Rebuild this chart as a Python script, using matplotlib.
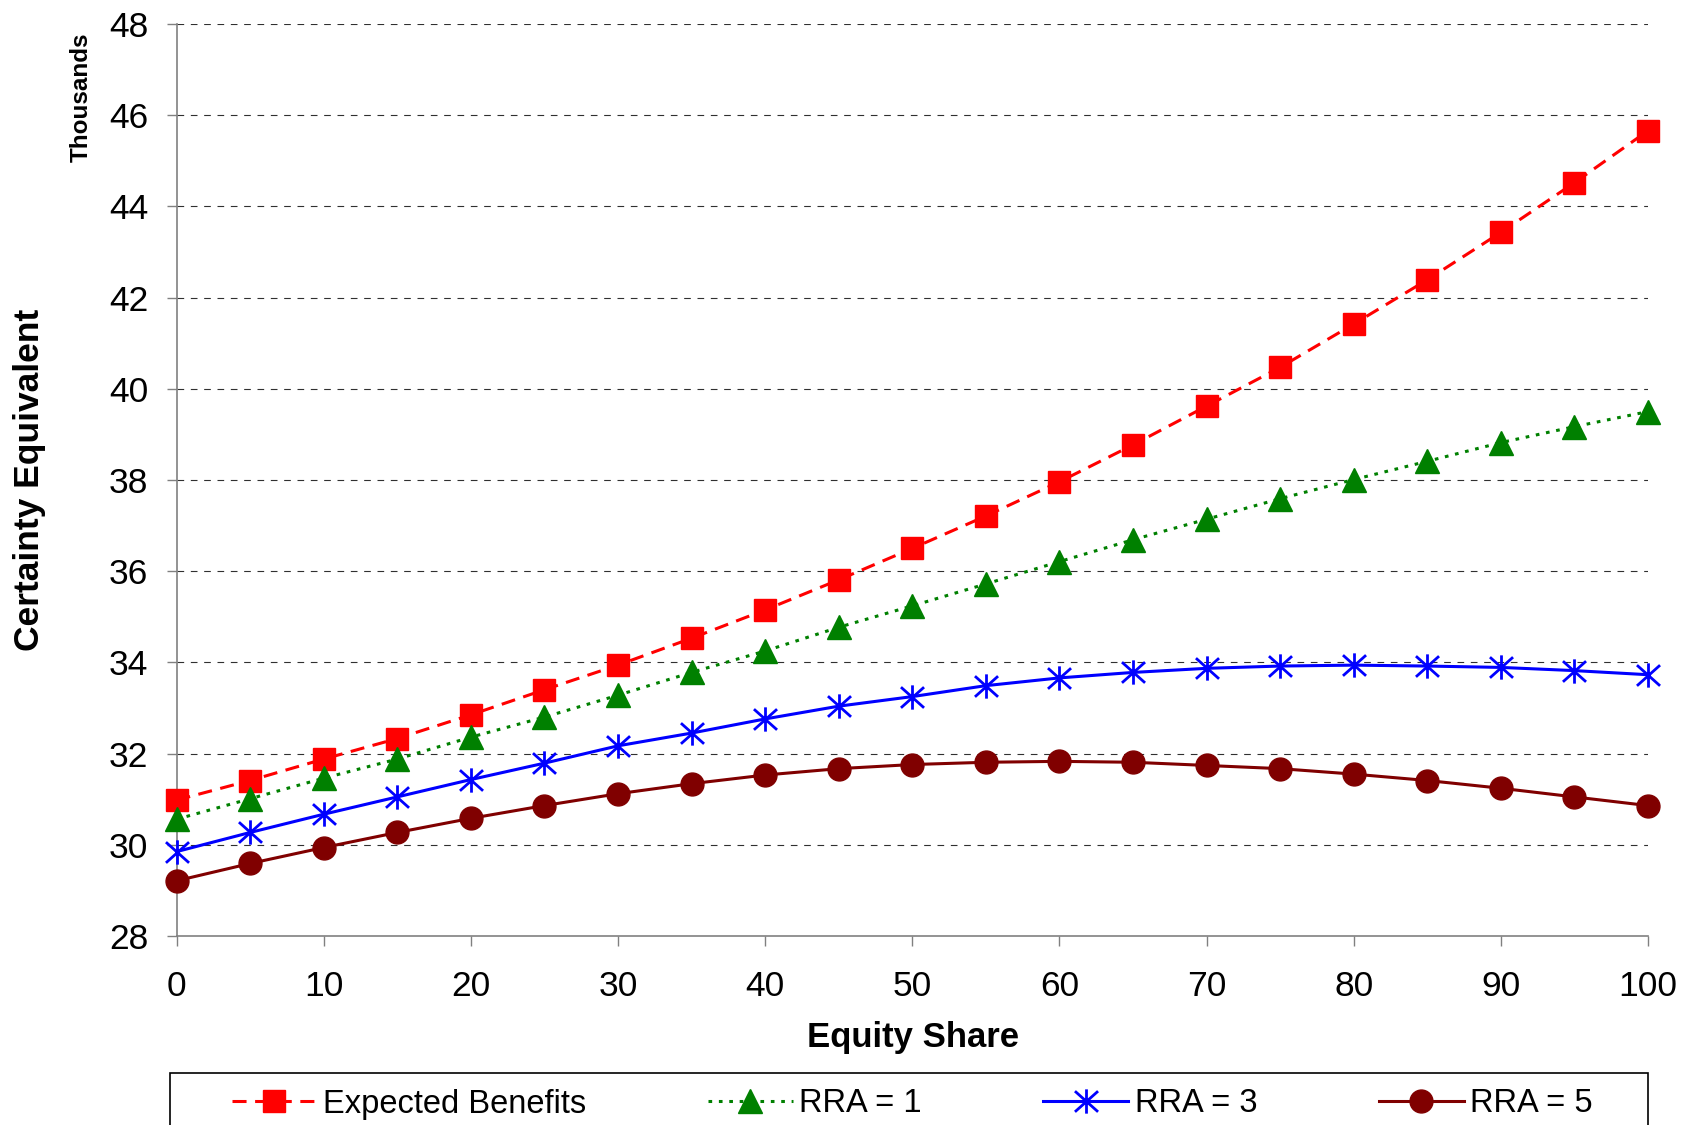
import matplotlib
matplotlib.use("Agg")
import matplotlib.pyplot as plt
from matplotlib.path import Path
from matplotlib.patches import Rectangle

plt.rcParams['font.family'] = ['Liberation Sans', 'DejaVu Sans']

equity_share = [0, 5, 10, 15, 20, 25, 30, 35, 40, 45, 50,
                55, 60, 65, 70, 75, 80, 85, 90, 95, 100]
expected_benefits = [30.98, 31.41, 31.88, 32.33, 32.85, 33.40, 33.94, 34.53, 35.15, 35.81, 36.50,
                     37.21, 37.96, 38.77, 39.62, 40.47, 41.42, 42.39, 43.43, 44.52, 45.66]
rra1 = [30.56, 31.01, 31.46, 31.88, 32.36, 32.80, 33.28, 33.78, 34.25, 34.77, 35.24,
        35.72, 36.21, 36.69, 37.14, 37.59, 38.01, 38.41, 38.82, 39.17, 39.50]
rra3 = [29.85, 30.27, 30.67, 31.05, 31.43, 31.79, 32.17, 32.45, 32.76, 33.04, 33.25,
        33.49, 33.66, 33.78, 33.87, 33.92, 33.94, 33.92, 33.89, 33.82, 33.73]
rra5 = [29.21, 29.59, 29.94, 30.27, 30.58, 30.86, 31.12, 31.34, 31.53, 31.67, 31.76,
        31.81, 31.83, 31.81, 31.74, 31.67, 31.55, 31.41, 31.24, 31.05, 30.86]
series_labels = ['Expected Benefits', 'RRA = 1', 'RRA = 3', 'RRA = 5']
x_ticks = [0, 10, 20, 30, 40, 50, 60, 70, 80, 90, 100]
y_ticks = [28, 30, 32, 34, 36, 38, 40, 42, 44, 46, 48]

W, H = 1692, 1125
fig = plt.figure(figsize=(W / 100, H / 100), dpi=100)
ax = fig.add_axes([176.5 / W, 1 - 936 / H, (1648 - 176.5) / W, (936 - 24) / H])

# star marker: vertical bar + X
star = Path([(0, -1), (0, 1), (-0.95, -0.85), (0.95, 0.85), (-0.95, 0.85), (0.95, -0.85)],
            [Path.MOVETO, Path.LINETO, Path.MOVETO, Path.LINETO, Path.MOVETO, Path.LINETO])

ax.plot(equity_share, expected_benefits, color='#FF0000', lw=2.2, linestyle=(0, (4.6, 2.8)),
        marker='s', markersize=16, markerfacecolor='#FF0000', markeredgecolor='#FF0000',
        label=series_labels[0], clip_on=False, zorder=5)
ax.plot(equity_share, rra1, color='#008000', lw=2.2, linestyle=(0, (1.2, 2.2)),
        marker='^', markersize=17, markerfacecolor='#008000', markeredgecolor='#008000',
        label=series_labels[1], clip_on=False, zorder=5)
ax.plot(equity_share, rra3, color='#0000FF', lw=2.2, linestyle='-',
        marker=star, markersize=17.5, markeredgewidth=2.0, fillstyle='none',
        markeredgecolor='#0000FF', label=series_labels[2], clip_on=False, zorder=5)
ax.plot(equity_share, rra5, color='#800000', lw=2.2, linestyle='-',
        marker='o', markersize=16.5, markerfacecolor='#800000', markeredgecolor='#800000',
        label=series_labels[3], clip_on=False, zorder=5)

ax.set_xlim(0, 100)
ax.set_ylim(28, 48)
ax.set_xticks(x_ticks)
ax.set_yticks(y_ticks)
ax.set_xticklabels([str(v) for v in x_ticks])
ax.set_yticklabels([str(v) for v in y_ticks])

for y in y_ticks[1:]:
    ax.axhline(y, color='#303030', lw=0.8, linestyle=(0, (6, 6)), zorder=1)

for s in ['top', 'right']:
    ax.spines[s].set_visible(False)
for s in ['left', 'bottom']:
    ax.spines[s].set_color('#808080')
    ax.spines[s].set_linewidth(1.2)

ax.tick_params(axis='both', direction='out', length=7.5, width=1.0, color='#808080',
               labelsize=25.5, labelcolor='black')
ax.tick_params(axis='y', pad=13)
ax.tick_params(axis='x', pad=17)

fig.text(30 / W, 1 - 480 / H, 'Certainty Equivalent', rotation=90, ha='center', va='center',
         fontsize=25.5, fontweight='bold')
fig.text(913 / W, 1 - 1038 / H, 'Equity Share', ha='center', va='center',
         fontsize=25, fontweight='bold')
fig.text(81 / W, 1 - 97 / H, 'Thousands', rotation=90, ha='center', va='center',
         fontsize=17.5, fontweight='bold')

handles, labels = ax.get_legend_handles_labels()
leg = fig.legend(handles, labels, loc='center left', bbox_to_anchor=(232 / W, 1 - 1104 / H),
                 ncol=4, frameon=False, fontsize=23.5, handlelength=2.6, handletextpad=0.2,
                 columnspacing=3.72, borderpad=0, borderaxespad=0)

fig.patches.append(Rectangle((170 / W, -0.1), (1648 - 170) / W, 0.1 + (1 - 1073 / H),
                             transform=fig.transFigure, fill=False, edgecolor='black',
                             lw=1.2, clip_on=False))

fig.savefig('out.png', dpi=100)
